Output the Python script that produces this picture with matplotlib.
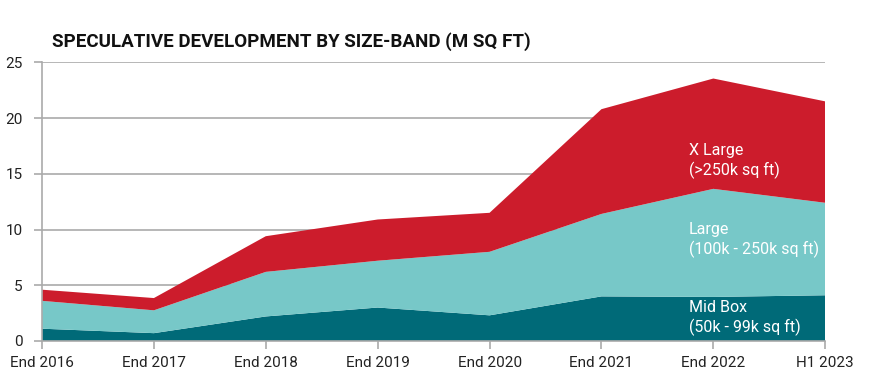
import numpy as np
import matplotlib.pyplot as plt

plt.rcParams['font.family'] = ['Roboto', 'DejaVu Sans']

# Periods and values (m sq ft)
periods = ['End 2016', 'End 2017', 'End 2018', 'End 2019', 'End 2020',
           'End 2021', 'End 2022', 'H1 2023']
mid_box = [1.1, 0.7, 2.2, 3.0, 2.3, 4.0, 3.95, 4.1]
large = [2.5, 2.05, 4.0, 4.2, 5.7, 7.4, 9.7, 8.3]
x_large = [1.0, 1.1, 3.2, 3.7, 3.5, 9.4, 9.9, 9.1]

labels = ['Mid Box\n(50k - 99k sq ft)', 'Large\n(100k - 250k sq ft)',
          'X Large\n(>250k sq ft)']
colors = ['#006a78', '#77c8c8', '#cc1c2c']

x = np.arange(len(periods))

fig = plt.figure(figsize=(8.81, 3.78), dpi=100)
ax = fig.add_axes([0.0477, 0.098, 0.889, 0.737])

ax.stackplot(x, mid_box, large, x_large, colors=colors, zorder=2)

# grid and axes styling
grey = '#aaaaaa'
ax.set_ylim(0, 25)
ax.set_xlim(0, len(periods) - 1)
ax.set_yticks([0, 5, 10, 15, 20, 25])
ax.yaxis.grid(True, color=grey, lw=1.2, zorder=0)
ax.set_xticks(x)
ax.set_xticklabels(periods)
for s in ['top', 'right']:
    ax.spines[s].set_visible(False)
ax.spines['left'].set_color(grey)
ax.spines['bottom'].set_color(grey)
ax.spines['left'].set_linewidth(1.2)
ax.spines['bottom'].set_linewidth(1.2)
ax.tick_params(axis='both', colors=grey, length=6, width=1.2,
               labelsize=11, labelcolor='#222222')
ax.tick_params(axis='y', pad=8)
ax.tick_params(axis='x', pad=5)

# in-chart labels
ax.text(6 - 0.22, 0.45, labels[0], color='white', fontsize=11.5, va='bottom',
        linespacing=1.3, zorder=3)
ax.text(6 - 0.22, 7.45, labels[1], color='white', fontsize=11.5, va='bottom',
        linespacing=1.3, zorder=3)
ax.text(6 - 0.22, 14.5, labels[2], color='white', fontsize=11.5, va='bottom',
        linespacing=1.3, zorder=3)

fig.text(0.059, 0.89, 'SPECULATIVE DEVELOPMENT BY SIZE-BAND (M SQ FT)',
         fontsize=13.5, fontweight='bold', color='#111111', va='center')

fig.savefig('out.png', dpi=100)
